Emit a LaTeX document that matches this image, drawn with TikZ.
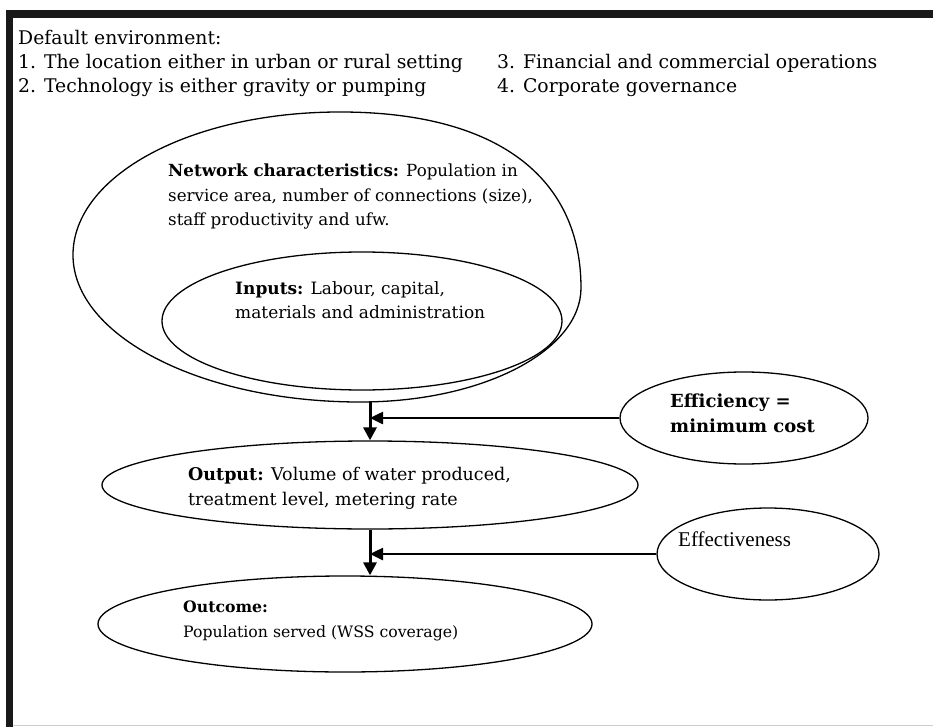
\documentclass[tikz,border=0pt]{standalone}
\usepackage{fontspec}
\setmainfont{DejaVu Serif}
\newfontfamily\timesfont{Liberation Serif}
\usetikzlibrary{shapes.geometric,arrows.meta}

\newcommand\txtsize[1]{\fontsize{#1}{24.5}\selectfont}

\tikzset{
  oval/.style={draw,ellipse,line width=1.3pt,inner sep=0pt},
  body/.style={anchor=north west,inner sep=0pt,align=left},
  envtext/.style={anchor=north west,inner sep=0pt,align=left,
    font=\fontsize{18.8}{24}\selectfont},
  flow/.style={line width=3pt,-{Triangle[length=13pt,width=13pt]}},
  side/.style={line width=2.5pt,-{Triangle[length=13pt,width=12pt]}},
}

\begin{document}
\begin{tikzpicture}[x=1pt,y=-1pt]
  \useasboundingbox (0,0) rectangle (933,727);
  % frame
  \fill[black!90] (6,10) rectangle (933,18);
  \fill[black!90] (6,10) rectangle (13,727);
  \draw[black!20,line width=1.5pt] (13,725.5) -- (933,725.5);

  % default environment
  \node[envtext] (envleft) at (18,30) {Default environment:\\
    1. The location either in urban or rural setting\\
    2. Technology is either gravity or pumping};
  \node[envtext] (envright) at (497,54) {3. Financial and commercial operations\\
    4. Corporate governance};

  % network characteristics (outer outline)
  \draw[line width=1.3pt] (340,112) .. controls (190,112) and (73,176) .. (73,255)
    .. controls (73,336) and (201.5,402) .. (360,402)
    .. controls (484,402) and (581,350) .. (581,288)
    .. controls (581,178) and (498,112) .. cycle;
  \coordinate (netbot) at (360,402);

  % ellipses
  \node[oval,minimum width=400pt,minimum height=138pt] (inputs) at (362,321) {};
  \node[oval,minimum width=536pt,minimum height=88pt] (output) at (370,485) {};
  \node[oval,minimum width=494pt,minimum height=96pt] (outcome) at (345,624) {};
  \node[oval,minimum width=248pt,minimum height=92pt] (eff) at (744,418) {};
  \node[oval,minimum width=222pt,minimum height=92pt] (effect) at (768,554) {};

  % texts
  \node[body,font=\txtsize{16.7}] (nettext) at (168,164) {\textbf{Network characteristics:} Population in\\
    service area, number of connections (size),\\
    staff productivity and ufw.};
  \node[body,font=\txtsize{17}] (inputstext) at (235,281) {\textbf{Inputs:} Labour, capital,\\
    materials and administration};
  \node[body,font=\txtsize{17.5}] (outputtext) at (188,467) {\textbf{Output:} Volume of water produced,\\
    treatment level, metering rate};
  \node[body,font=\txtsize{15.7}] (outcometext) at (183,601) {\textbf{Outcome:}\\
    Population served (WSS coverage)};
  \node[body,font=\txtsize{18}] (efftext) at (670,394) {\textbf{Efficiency =}\\
    \textbf{minimum cost}};
  \node[body,font=\timesfont\fontsize{21}{24}\selectfont] (effecttext) at (678,532) {Effectiveness};

  % arrows
  \draw[flow] (output.north |- netbot) -- (output.north);
  \draw[side] (eff.west) -- (eff.west -| output.north);
  \draw[flow] (output.south) -- (output.south |- outcome.north);
  \draw[side] (effect.west) -- (effect.west -| output.south);
\end{tikzpicture}
\end{document}
